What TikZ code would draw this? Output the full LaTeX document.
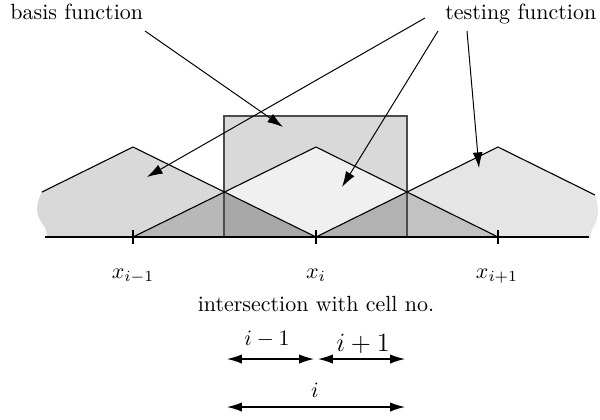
\documentclass[tikz,border=0pt]{standalone}
\usepackage{amsmath}
\usepackage{tikz}
\usetikzlibrary{arrows.meta}
\definecolor{hatleft}{gray}{0.85}
\definecolor{hatright}{gray}{0.90}
\definecolor{pulse}{gray}{0.85}
\definecolor{diamond}{gray}{0.94}
\definecolor{lowLo}{gray}{0.72}
\definecolor{lowLi}{gray}{0.66}
\definecolor{lowRi}{gray}{0.70}
\definecolor{lowRo}{gray}{0.76}

\begin{document}
\begin{tikzpicture}[
    x=0.016cm, y=-0.016cm,
    lbl/.style={inner sep=0pt, anchor=base},
    lead/.style={-{Latex[length=2.5mm, width=1.6mm]}, line width=0.45pt},
    span/.style={{Latex[length=2.4mm, width=1.5mm]}-{Latex[length=2.4mm, width=1.5mm]}, line width=0.6pt},
    hat/.style={line width=0.5pt},
    tick/.style={line width=0.5pt}
  ]
    \useasboundingbox (0,0) rectangle (600,419);

    % fills
    \fill[hatleft] (42,192) .. controls (36,203) and (35,214) .. (42,223)
        .. controls (46,229) .. (47,237) -- (316,237) -- (133,147) -- cycle;
    \fill[hatright] (595,195) .. controls (599,206) and (599,218) .. (594,226)
        .. controls (591,231) .. (591,237) -- (316,237) -- (498,147) -- cycle;
    \fill[pulse] (224,116) rectangle (407,237);
    \fill[diamond] (224,192) -- (316,147) -- (407,192) -- (316,237) -- cycle;
    \fill[lowLo] (133,237) -- (224,192) -- (224,237) -- cycle;
    \fill[lowLi] (224,192) -- (316,237) -- (224,237) -- cycle;
    \fill[lowRi] (316,237) -- (407,192) -- (407,237) -- cycle;
    \fill[lowRo] (407,192) -- (498,237) -- (407,237) -- cycle;

    % outlines
    \draw[black!70, line width=0.6pt] (224,237) -- (224,116) -- (407,116) -- (407,237);
    \draw[hat] (42,192) -- (133,147) -- (316,237);
    \draw[hat] (133,237) -- (316,147) -- (498,237);
    \draw[hat] (316,237) -- (498,147) -- (595,195);
    \draw[line width=1pt] (45,237) -- (589,237);
    \foreach \xp in {133,316,498}
      \draw[tick] (\xp,230) -- (\xp,244);

    % labels
    \node[lbl] (xm) at (133,278) {$x_{i-1}$};
    \node[lbl] (xc) at (316,278) {$x_i$};
    \node[lbl] (xp) at (497,278) {$x_{i+1}$};

    \node[lbl, anchor=base west] (basis) at (10,19) {basis function};
    \node[lbl, anchor=base west] (testing) at (445,19) {testing function};

    \coordinate (b0) at (145,31);
    \coordinate (b1) at (283,127);
    \coordinate (t0) at (425,18);
    \coordinate (t1) at (147,177);
    \coordinate (u0) at (438,31);
    \coordinate (u1) at (342,187);
    \coordinate (v0) at (467,31);
    \coordinate (v1) at (479,168);
    \draw[lead] (b0) -- (b1);
    \draw[lead] (t0) -- (t1);
    \draw[lead] (u0) -- (u1);
    \draw[lead] (v0) -- (v1);

    % cell intersections
    \node[lbl] (cell) at (316,311) {intersection with cell no.};
    \node[lbl] (cm) at (267,345) {$i-1$};
    \node[lbl] (cp) at (363,351) {\large $i+1$};
    \node[lbl] (ci) at (315,397) {$i$};

    \coordinate (a0) at (227,359);
    \coordinate (a1) at (314,359);
    \coordinate (a2) at (318,359);
    \coordinate (a3) at (405,359);
    \coordinate (c0) at (227,407);
    \coordinate (c1) at (405,407);
    \draw[span] (a0) -- (a1);
    \draw[span] (a2) -- (a3);
    \draw[span] (c0) -- (c1);
  \end{tikzpicture}
\end{document}
